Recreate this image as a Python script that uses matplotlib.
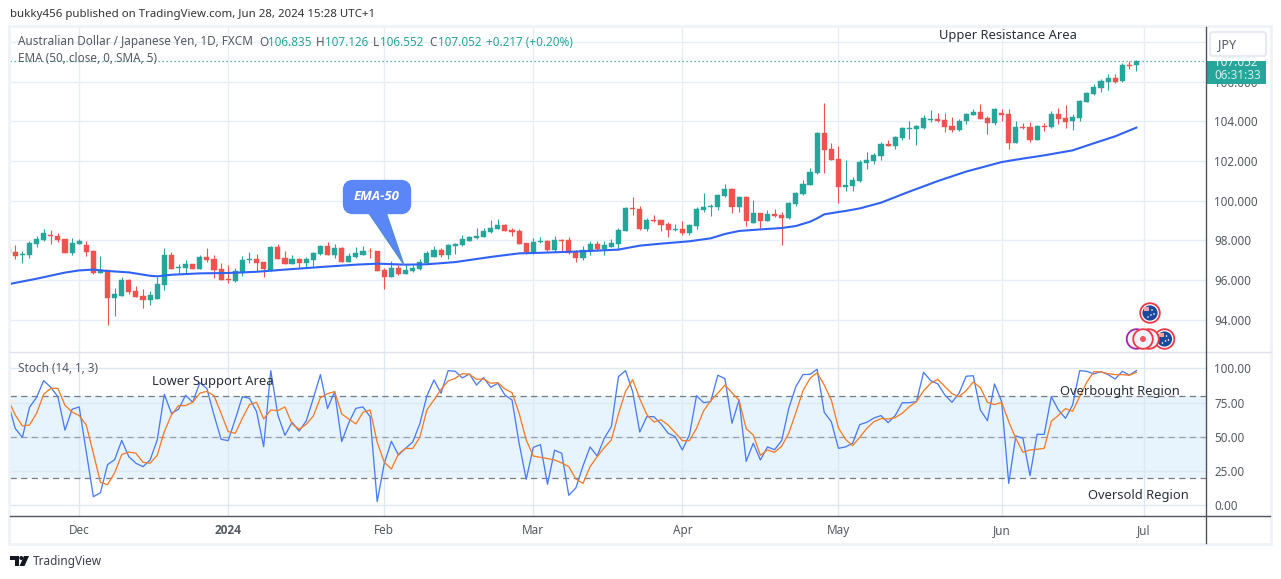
import numpy as np
from matplotlib import pyplot as plt
from matplotlib.patches import Circle, FancyBboxPatch, Polygon, Rectangle

plt.rcParams['font.family'] = ['Noto Sans', 'DejaVu Sans']

# daily candles, one per trading day
opens = [97.56, 97.41, 97.27, 97.26, 97.81, 98.01, 98.27, 98.22, 98.07, 97.36,
         97.81, 97.76, 97.46, 96.35, 96.50, 95.09, 95.19, 96.00, 95.44, 95.19,
         94.98, 95.03, 95.74, 97.26, 96.62, 96.60, 96.80, 96.55, 97.16, 97.05,
         96.55, 96.05, 95.94, 96.35, 97.00, 97.05, 96.90, 96.50, 97.66, 97.11,
         96.80, 97.05, 96.85, 97.00, 97.31, 97.71, 97.26, 97.61, 96.90, 97.16,
         97.26, 97.46, 97.46, 96.50, 96.15, 96.60, 96.30, 96.45, 96.55, 96.85,
         97.16, 97.51, 97.26, 97.71, 97.76, 97.96, 98.12, 98.17, 98.42, 98.57,
         98.77, 98.52, 98.47, 97.86, 97.41, 97.91, 97.96, 97.51, 98.03, 98.02,
         97.41, 97.11, 97.46, 97.81, 97.56, 97.66, 97.81, 98.47, 99.63, 99.58,
         98.57, 99.03, 99.03, 98.82, 98.52, 98.57, 98.37, 98.72, 99.53, 99.70,
         99.68, 100.24, 100.59, 99.68, 100.19, 98.87, 99.38, 98.97, 99.33, 99.28,
         99.13, 99.83, 100.34, 100.79, 101.40, 103.42, 102.61, 102.11, 100.69, 100.74,
         101.00, 101.90, 102.00, 102.26, 102.86, 102.76, 103.17, 103.64, 103.62, 103.67,
         104.09, 104.13, 104.07, 103.77, 103.57, 104.02, 104.33, 104.48, 104.18, 103.92,
         104.43, 104.38, 102.91, 103.72, 103.72, 103.07, 103.77, 103.72, 104.38, 104.18,
         104.02, 104.18, 104.98, 105.39, 105.69, 105.99, 106.20, 106.05, 106.87, 106.835]
highs = [97.68, 97.76, 97.46, 97.96, 98.22, 98.57, 98.52, 98.37, 98.07, 98.12,
         98.07, 97.96, 97.51, 97.21, 96.50, 95.59, 96.15, 96.05, 95.69, 95.54,
         95.44, 96.15, 97.61, 97.41, 96.80, 97.00, 96.80, 97.26, 97.61, 97.26,
         96.85, 96.75, 96.60, 97.21, 97.41, 97.31, 96.90, 97.71, 97.81, 97.46,
         97.26, 97.11, 97.16, 97.41, 97.76, 97.91, 97.81, 97.66, 97.36, 97.66,
         97.71, 97.61, 97.46, 96.60, 96.95, 96.75, 96.75, 96.75, 97.05, 97.46,
         97.71, 97.61, 97.81, 97.86, 98.27, 98.22, 98.62, 98.62, 99.03, 99.08,
         98.82, 98.62, 98.57, 97.86, 98.12, 98.17, 98.02, 98.22, 98.07, 98.17,
         97.51, 97.71, 97.96, 97.96, 97.96, 98.07, 98.62, 99.68, 100.19, 99.73,
         99.13, 99.28, 99.03, 98.92, 98.82, 98.97, 98.82, 99.68, 100.39, 99.83,
         100.34, 100.84, 100.64, 100.24, 100.24, 100.03, 99.38, 99.53, 99.58, 99.43,
         99.93, 100.44, 101.05, 101.65, 103.47, 104.93, 102.91, 102.76, 102.06, 101.20,
         102.06, 102.46, 102.41, 102.96, 103.07, 103.27, 103.72, 104.02, 103.82, 104.33,
         104.58, 104.43, 104.43, 104.23, 104.13, 104.43, 104.63, 104.88, 104.28, 104.68,
         104.63, 104.63, 104.02, 103.92, 103.97, 103.82, 103.92, 104.53, 104.68, 104.83,
         104.38, 105.09, 105.49, 105.89, 106.15, 106.40, 106.40, 106.95, 107.05, 107.126]
lows = [97.26, 97.05, 96.85, 97.11, 97.66, 97.96, 97.81, 97.91, 97.36, 97.26,
        97.81, 97.21, 96.30, 96.33, 93.72, 94.18, 95.19, 95.29, 95.14, 94.58,
        94.73, 95.03, 95.49, 96.55, 96.35, 96.35, 96.55, 96.55, 96.90, 96.10,
        96.00, 95.84, 95.89, 96.20, 96.85, 96.45, 96.15, 96.45, 97.05, 96.80,
        96.80, 96.60, 96.65, 96.70, 97.26, 97.26, 97.11, 96.90, 96.90, 97.11,
        97.26, 97.11, 96.45, 95.54, 96.15, 96.25, 96.30, 96.40, 96.50, 96.85,
        97.16, 97.16, 97.06, 97.31, 97.71, 97.96, 98.07, 98.17, 98.37, 98.57,
        98.47, 98.22, 97.81, 97.31, 97.31, 97.86, 97.46, 97.41, 97.46, 97.31,
        96.90, 97.01, 97.26, 97.46, 97.26, 97.66, 97.56, 98.47, 99.28, 98.52,
        98.47, 98.92, 98.47, 98.17, 98.47, 98.27, 98.27, 98.57, 99.43, 99.23,
        99.53, 100.19, 99.38, 99.43, 98.72, 98.87, 98.62, 98.97, 99.18, 97.76,
        99.08, 99.73, 100.29, 100.79, 101.35, 101.40, 102.06, 99.88, 100.49, 100.49,
        100.94, 101.60, 101.85, 102.06, 102.76, 102.61, 103.07, 103.12, 102.81, 103.62,
        103.97, 103.97, 103.47, 103.47, 103.52, 103.87, 104.33, 104.13, 103.37, 103.82,
        104.02, 102.61, 102.91, 103.62, 102.96, 103.07, 103.52, 103.67, 103.87, 103.67,
        103.57, 104.02, 104.98, 105.34, 105.49, 105.59, 105.94, 105.99, 106.65, 106.552]
closes = [97.36, 97.21, 97.32, 97.86, 98.07, 98.37, 98.23, 98.01, 97.36, 97.86,
          97.96, 97.41, 96.35, 96.50, 95.09, 95.29, 96.00, 95.39, 95.14, 94.98,
          95.24, 95.79, 97.26, 96.55, 96.65, 96.80, 96.55, 97.16, 97.00, 96.50,
          96.00, 96.00, 96.45, 97.00, 97.05, 96.85, 96.55, 97.66, 97.05, 96.80,
          97.05, 96.85, 97.05, 97.36, 97.71, 97.26, 97.61, 96.90, 97.21, 97.36,
          97.46, 97.44, 96.45, 96.15, 96.60, 96.30, 96.50, 96.60, 96.90, 97.36,
          97.51, 97.26, 97.76, 97.81, 98.07, 98.17, 98.22, 98.47, 98.62, 98.77,
          98.47, 98.42, 97.81, 97.41, 97.91, 97.96, 97.51, 98.02, 97.98, 97.36,
          97.11, 97.51, 97.81, 97.56, 97.76, 97.86, 98.52, 99.63, 99.60, 98.57,
          99.03, 98.97, 98.77, 98.52, 98.57, 98.37, 98.77, 99.58, 99.68, 99.73,
          100.29, 100.59, 99.68, 100.19, 98.97, 99.38, 98.97, 99.33, 99.23, 99.13,
          99.88, 100.39, 100.84, 101.45, 103.42, 102.56, 102.06, 100.69, 100.79, 101.04,
          101.95, 102.06, 102.31, 102.86, 102.76, 103.22, 103.67, 103.69, 103.77, 104.18,
          104.14, 104.02, 103.72, 103.57, 104.02, 104.38, 104.48, 104.13, 103.92, 104.63,
          104.33, 102.91, 103.72, 103.67, 103.07, 103.77, 103.72, 104.38, 104.13, 103.97,
          104.23, 105.04, 105.44, 105.74, 106.05, 106.20, 105.99, 106.85, 106.82, 107.052]

ema_bars = [0, 4, 8, 10, 12, 14, 17, 20, 21, 23, 27, 31, 35, 39, 44, 49, 52, 56, 59,
            63, 68, 72, 75, 80, 86, 89, 92, 96, 99, 101, 103, 106, 109, 111, 113, 114, 115,
            117, 118, 120, 123, 127, 131, 135, 140, 142, 146, 150, 153, 156, 159]
ema_vals = [95.78, 96.06, 96.37, 96.48, 96.52, 96.45, 96.38, 96.21, 96.18, 96.26,
            96.33, 96.35, 96.41, 96.52, 96.65, 96.77, 96.82, 96.77, 96.79, 96.90,
            97.16, 97.34, 97.37, 97.43, 97.53, 97.73, 97.83, 97.95, 98.10, 98.32, 98.47,
            98.55, 98.62, 98.72, 98.94, 99.11, 99.31, 99.43, 99.48, 99.61, 99.90, 100.46,
            100.99, 101.47, 101.95, 102.07, 102.29, 102.54, 102.90, 103.25, 103.69]

stoch_k = [74.5, 56.0, 49.6, 71.5, 78.8, 91.0, 86.1, 79.3, 54.8, 70.1,
           71.8, 39.2, 6.3, 9.2, 29.7, 33.3, 47.4, 35.5, 30.7, 28.2,
           33.1, 47.7, 81.0, 67.2, 70.1, 80.3, 75.2, 89.5, 85.2, 65.9,
           48.2, 47.2, 62.8, 79.3, 78.1, 68.4, 42.8, 98.3, 65.9, 51.1,
           60.6, 54.2, 61.6, 78.1, 95.4, 70.6, 83.0, 46.5, 60.3, 70.8,
           71.8, 64.7, 2.7, 30.7, 46.7, 36.7, 41.6, 46.2, 59.4, 79.8,
           91.5, 81.8, 98.3, 97.8, 93.0, 95.9, 87.8, 93.2, 86.1, 89.1,
           80.5, 76.9, 45.3, 19.0, 42.3, 44.3, 15.3, 40.2, 38.0, 7.3,
           12.7, 28.7, 42.6, 36.0, 48.9, 57.4, 93.9, 98.3, 83.0, 53.5,
           64.7, 64.7, 59.4, 52.6, 50.1, 40.4, 51.3, 80.0, 74.9, 75.7,
           94.9, 92.5, 59.9, 76.9, 32.1, 45.3, 33.1, 42.6, 40.6, 47.2,
           70.8, 86.6, 95.4, 95.6, 99.3, 67.9, 61.0, 41.6, 42.6, 45.3,
           58.9, 60.6, 63.7, 65.5, 60.3, 65.5, 74.9, 74.9, 75.7, 97.1,
           91.0, 88.6, 80.5, 75.2, 81.8, 94.2, 94.6, 69.6, 61.8, 88.6,
           75.7, 16.0, 50.6, 48.9, 21.7, 51.8, 51.8, 79.3, 69.6, 63.5,
           73.2, 98.3, 97.8, 95.9, 97.6, 95.4, 92.2, 97.8, 95.1, 98.3]
stoch_d = [76.9, 65.9, 57.9, 58.6, 67.2, 81.0, 85.4, 85.4, 73.0, 68.1,
           65.5, 58.6, 38.0, 16.8, 15.1, 23.8, 37.0, 38.9, 38.0, 31.4,
           30.7, 36.5, 53.8, 65.9, 72.8, 72.8, 75.2, 81.8, 83.2, 80.0,
           67.2, 53.8, 52.6, 63.5, 73.5, 75.2, 63.0, 69.6, 69.1, 71.8,
           59.4, 55.5, 59.1, 65.2, 78.6, 81.5, 83.0, 66.7, 63.0, 59.4,
           67.9, 69.6, 46.0, 31.4, 26.5, 37.5, 41.6, 41.4, 49.6, 69.6,
           76.9, 84.7, 90.8, 92.7, 96.1, 95.6, 92.0, 92.2, 89.1, 89.5,
           84.9, 82.2, 67.2, 47.7, 36.0, 35.0, 34.1, 33.1, 30.9, 28.2,
           19.2, 16.0, 28.2, 35.5, 42.1, 47.7, 66.7, 83.2, 91.7, 77.9,
           66.2, 60.8, 62.5, 58.6, 53.0, 47.2, 47.2, 56.2, 68.9, 76.4,
           81.8, 87.8, 82.2, 76.6, 56.0, 51.3, 36.5, 40.4, 38.7, 43.1,
           52.6, 67.6, 83.7, 92.7, 96.8, 87.8, 76.9, 56.5, 48.2, 43.5,
           49.6, 56.2, 61.0, 63.3, 63.0, 64.0, 67.2, 72.0, 75.7, 83.5,
           89.1, 92.0, 86.6, 81.5, 79.3, 83.7, 90.0, 85.9, 75.2, 73.5,
           75.2, 61.0, 48.9, 38.7, 40.4, 40.9, 41.6, 61.3, 65.7, 70.6,
           68.6, 79.3, 89.8, 97.6, 97.3, 96.1, 95.4, 95.4, 94.9, 97.1]

month_bars = [10, 31, 53, 74, 95, 117, 140, 160]
month_labels = ['Dec', '2024', 'Feb', 'Mar', 'Apr', 'May', 'Jun', 'Jul']
price_ticks = [94, 96, 98, 100, 102, 104, 106, 108]
stoch_ticks = [0, 25, 50, 75, 100]

W, H = 1281, 579
GREEN = '#26a69a'
RED = '#ef5350'
GRID = '#e6edf4'
TXT = '#555962'
FS = 8.45


def pane(x0, y0, x1, y1):
    # axes from pixel box, y measured from the top of the picture
    return fig.add_axes([x0 / W, 1 - y1 / H, (x1 - x0) / W, (y1 - y0) / H])


fig = plt.figure(figsize=(W / 100, H / 100), dpi=100, facecolor='white')
ax = pane(10, 27, 1206, 352)
ax2 = pane(10, 352, 1206, 516)

x = np.arange(len(opens))
o, h, l, c = map(np.array, (opens, highs, lows, closes))
cols = [GREEN if c[i] >= o[i] else RED for i in x]

ax.vlines(x, l, h, colors=cols, lw=0.8, zorder=3)
ax.bar(x, c - o, bottom=o, width=0.72, color=cols, edgecolor=cols, lw=0.3, zorder=3)
ax.plot(ema_bars, ema_vals, color='#2f62f5', lw=1.5, zorder=4)
ax.axhline(closes[-1], color=GREEN, lw=0.9, ls=(0, (1, 2.2)), zorder=2)
ax.set_xlim(0.253, 168.8)
ax.set_ylim(92.36, 108.77)
ax.set_yticks(price_ticks)
# the 108 label sits behind the currency box
ax.set_yticklabels(['%.3f' % p if p < 108 else '' for p in price_ticks], fontsize=FS, color=TXT)
ax.set_xticks(month_bars)
ax.tick_params(axis='x', length=0, labelbottom=False)
ax.yaxis.tick_right()
ax.tick_params(axis='y', length=0, pad=5.8)
ax.grid(True, color=GRID, lw=1)
ax.set_axisbelow(True)

ax2.axhspan(20, 80, color='#e7f4fd', lw=0, zorder=0)
ax2.grid(True, color='#dce8f2', lw=1)
ax2.set_axisbelow(True)
for lev, lc in ((80, '#787b86'), (50, '#9a9da6'), (20, '#787b86')):
    ax2.axhline(lev, color=lc, lw=0.9, ls=(0, (5, 3.5)), zorder=1)
ax2.plot(x, stoch_k, color='#4a7cf7', lw=0.95, zorder=3)
ax2.plot(x, stoch_d, color='#f57c28', lw=0.95, zorder=4)
ax2.set_xlim(0.253, 168.8)
ax2.set_ylim(-7.8, 111.9)
ax2.set_yticks(stoch_ticks)
ax2.set_yticklabels(['%.2f' % v for v in stoch_ticks], fontsize=FS, color=TXT)
ax2.yaxis.tick_right()
ax2.tick_params(axis='y', length=0, pad=5.8)
ax2.set_xticks(month_bars)
ax2.set_xticklabels(month_labels, fontsize=FS, color=TXT)
ax2.tick_params(axis='x', length=0, pad=5.5)
yr = ax2.get_xticklabels()[1]
yr.set_family('Open Sans')
yr.set_fontweight('bold')

for a in (ax, ax2):
    for s in a.spines.values():
        s.set_visible(False)
    a.patch.set_alpha(0)

# overlay in picture pixels for the frame, notes and labels
ov = fig.add_axes([0, 0, 1, 1], zorder=10)
ov.set_xlim(0, W)
ov.set_ylim(H, 0)
ov.axis('off')

# frame
ov.add_patch(Rectangle((9, 26), 1262, 518, fill=False, ec='#eff2f7', lw=2))
ov.plot([10, 1271], [352, 352], color='#e0e3eb', lw=1)
ov.plot([1206, 1206], [27, 543], color='#50535e', lw=1)
ov.plot([10, 1270], [516, 516], color='#50535e', lw=1)

# top texts
ov.text(10, 15, 'bukky456 published on TradingView.com, Jun 28, 2024 15:28 UTC+1',
        fontsize=8.25, color='#333333', va='center')
ov.text(18, 42, 'Australian Dollar / Japanese Yen, 1D, FXCM', fontsize=FS, color=TXT, va='center')
for xp, s, col in ((259, 'O', TXT), (268, '106.835', GREEN), (316, 'H', TXT), (325, '107.126', GREEN),
                   (373, 'L', TXT), (380, '106.552', GREEN), (429, 'C', TXT), (438, '107.052', GREEN),
                   (486, '+0.217 (+0.20%)', GREEN)):
    ov.text(xp, 42, s, fontsize=FS, color=col, va='center')
ov.text(18, 59, 'EMA (50, close, 0, SMA, 5)', fontsize=FS, color=TXT, va='center')
ov.text(18, 368, 'Stoch (14, 1, 3)', fontsize=FS, color=TXT, va='center')

# drawn notes
for xp, yp, s in ((939, 35, 'Upper Resistance Area'), (152, 381, 'Lower Support Area'),
                  (1060, 392, 'Overbought Region'), (1088, 495, 'Oversold Region')):
    ov.text(xp, yp, s, fontsize=9.3, color='#2a2e39', va='center')

# callout
ov.add_patch(Polygon([(368, 212), (386, 212), (404, 265)], fc='#5b86f7', ec='#4b8fc8', lw=0.8))
ov.add_patch(FancyBboxPatch((347, 184), 60, 26, boxstyle='round,pad=0,rounding_size=6',
                            mutation_aspect=1, fc='#5b86f7', ec='#5b86f7', lw=6))
ov.text(377, 197, 'EMA-50', fontsize=9.5, color='white', family='Open Sans', style='italic',
        fontweight='bold', ha='center', va='center')

# JPY box
ov.add_patch(FancyBboxPatch((1210, 32), 56, 24, boxstyle='round,pad=0,rounding_size=3',
                            fc='white', ec='#e8ebf2', lw=1.5))
ov.text(1218, 44.5, 'JPY', fontsize=9, color=TXT, va='center')

# last price tag
tag = Rectangle((1206, 61), 60, 22.5, fc=GREEN, ec='none')
ov.add_patch(tag)
t = ov.text(1214, 62.5, '107.052', fontsize=FS, color='#e3f4f2', va='center')
t.set_clip_path(tag)
ov.text(1214, 75.5, '06:31:33', fontsize=FS, color='#d5efec', va='center')


def flag(cx, cy):
    ov.add_patch(Circle((cx, cy), 9.8, fc='white', ec='#f23645', lw=1.3))
    ov.add_patch(Circle((cx, cy), 7.6, fc='#1b4a9c', ec='none'))
    ov.add_patch(Rectangle((cx - 6, cy - 6), 5, 4, fc='#e8a6ac', ec='none'))
    for dx, dy in ((2, -3), (4, 1), (-2, 4), (1, 2)):
        ov.add_patch(Circle((cx + dx, cy + dy), 0.8, fc='white', ec='none'))


# event markers
flag(1150, 313)
ov.add_patch(Circle((1136.5, 339), 9.8, fc='#f0f3fa', ec='#9c27b0', lw=1.3))
flag(1164.5, 339)
ov.add_patch(Circle((1149, 339), 9.8, fc='#f0f3fa', ec='#f23645', lw=1.3))
ov.add_patch(Circle((1143, 339), 9.8, fc='#f0f3fa', ec='#f23645', lw=1.3))
ov.add_patch(Circle((1143, 339), 3, fc='#f7525f', ec='none'))

# footer logo
ov.add_patch(Polygon([(10, 556), (18.5, 556), (18.5, 566), (14.5, 566), (14.5, 560), (10, 560)], fc='#131722', ec='none'))
ov.add_patch(Circle((21.3, 558), 2, fc='#131722', ec='none'))
ov.add_patch(Polygon([(24, 556), (29, 556), (24.5, 566), (19.5, 566)], fc='#131722', ec='none'))
ov.text(33, 561, 'TradingView', fontsize=8.5, color='#3b3f4a', va='center')

fig.savefig('out.png', dpi=100)
